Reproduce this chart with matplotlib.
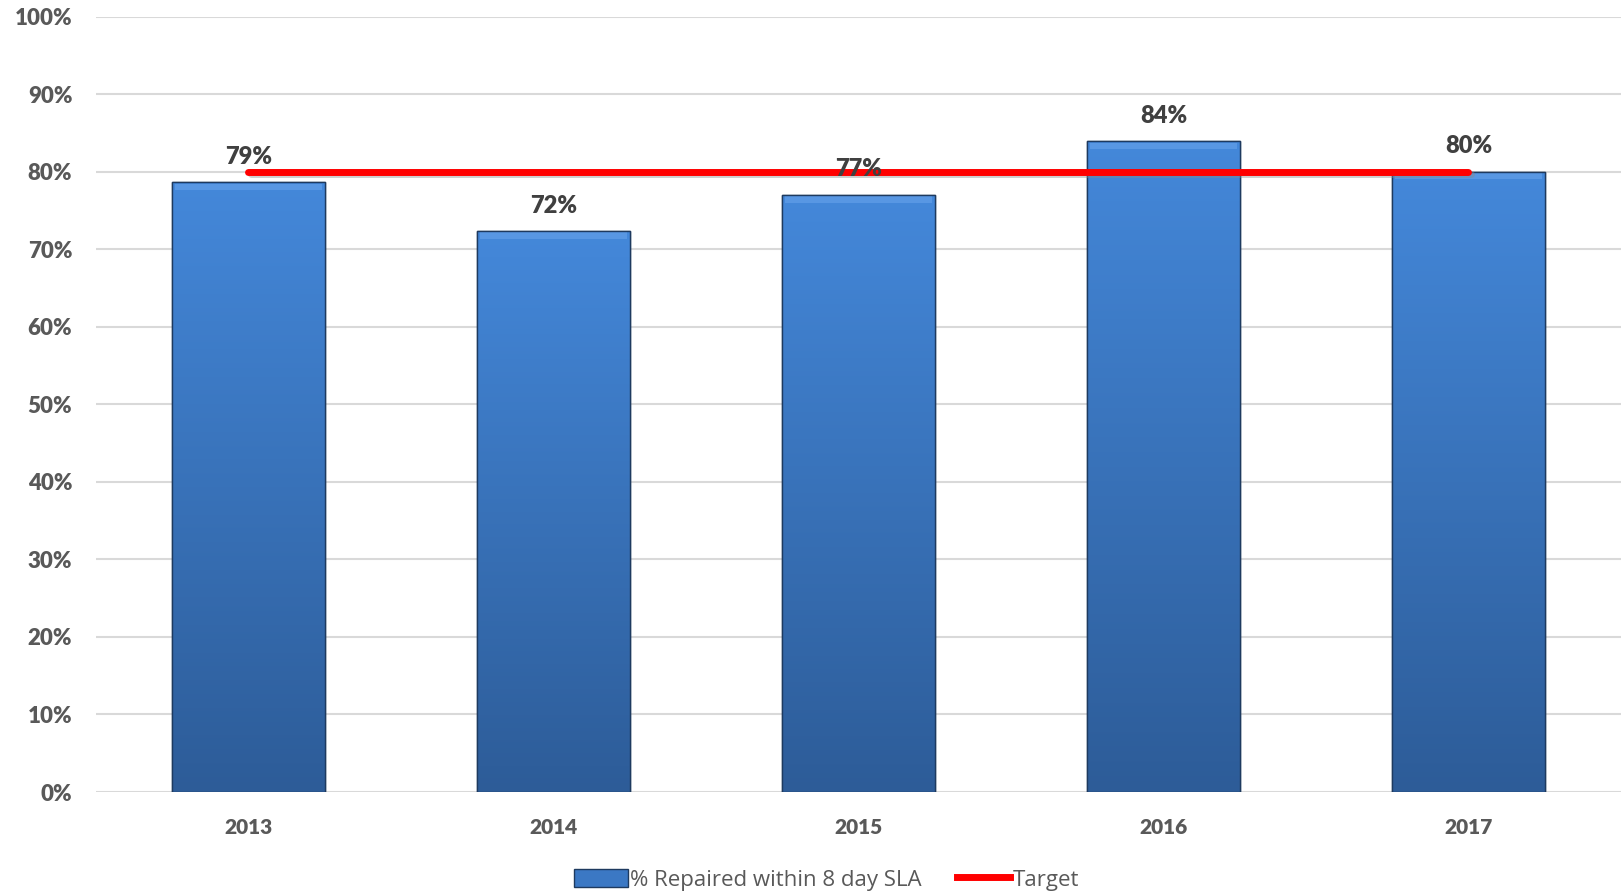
import numpy as np
import matplotlib
matplotlib.use('Agg')
import matplotlib.pyplot as plt
from matplotlib.patches import Patch
from matplotlib.lines import Line2D
import matplotlib.patheffects as pe

years = ['2013', '2014', '2015', '2016', '2017']
repaired = [78.6, 72.3, 77.0, 83.9, 80.0]
labels = ['79%', '72%', '77%', '84%', '80%']
target = [80, 80, 80, 80, 80]
yticks = [0, 10, 20, 30, 40, 50, 60, 70, 80, 90, 100]

fig = plt.figure(figsize=(16.21, 8.93), dpi=100)
ax = fig.add_axes([0.0592, 0.1131, 0.9408, 0.8684])

x = np.arange(len(years))
bars = ax.bar(x, repaired, width=0.5, color='#3B78C4', edgecolor='#1E3A5F',
              linewidth=1.0, zorder=3)

# vertical gradient inside each bar
grad = np.linspace(0, 1, 256).reshape(-1, 1)
cmap = matplotlib.colors.LinearSegmentedColormap.from_list('bar', ['#2D5C98', '#4488DA'])
for b in bars:
    bx, bw, bh = b.get_x(), b.get_width(), b.get_height()
    im = ax.imshow(grad, extent=[bx, bx + bw, 0, bh], origin='lower', aspect='auto',
                   cmap=cmap, zorder=3.1)
    im.set_clip_path(b)
    # soft bevel along the top
    ax.fill_between([bx + bw * 0.02, bx + bw * 0.98], bh - 1.0, bh - 0.15,
                    color='#6AA6EC', alpha=0.55, zorder=3.2, linewidth=0)
    ax.plot([bx, bx + bw, bx + bw, bx, bx], [0, 0, bh, bh, 0], color='#1E3A5F',
            linewidth=1.0, zorder=3.3)

ax.plot(x, target, color='#FF0000', linewidth=5, solid_capstyle='round', zorder=4,
        path_effects=[pe.SimpleLineShadow(offset=(1.5, -1.5), shadow_color='#888888', alpha=0.4),
                      pe.Normal()])

for xi, v, lab in zip(x, repaired, labels):
    ax.text(xi, v + 1.9, lab, ha='center', va='bottom', fontsize=17, fontweight='heavy',
            color='#404040', family='Lato', zorder=5)

ax.set_xlim(-0.5, 4.5)
ax.set_ylim(0, 100)
ax.set_yticks(yticks)
ax.set_yticklabels([f'{t}%' for t in yticks], fontsize=16, fontweight='heavy',
                   color='#595959', family='Lato')
ax.set_xticks(x)
ax.set_xticklabels(years, fontsize=15, fontweight='heavy', color='#595959', family='Lato')
ax.tick_params(axis='y', length=0, pad=17)
ax.tick_params(axis='x', length=0, pad=19)
ax.grid(axis='y', color='#D9D9D9', linewidth=1.5, zorder=0)
ax.set_axisbelow(True)
for s in ax.spines.values():
    s.set_visible(False)

handles = [Patch(facecolor='#3B78C4', edgecolor='#1E3A5F', label='% Repaired within 8 day SLA'),
           Line2D([0], [0], color='#FF0000', linewidth=5, label='Target')]
fig.legend(handles=handles, loc='center', bbox_to_anchor=(0.51, 0.015), ncol=2, frameon=False,
           prop={'family': 'Open Sans', 'size': 16}, labelcolor='#595959',
           handlelength=2.4, handletextpad=0.1, columnspacing=1.6, handleheight=0.9)

fig.savefig('out.png', dpi=100)
